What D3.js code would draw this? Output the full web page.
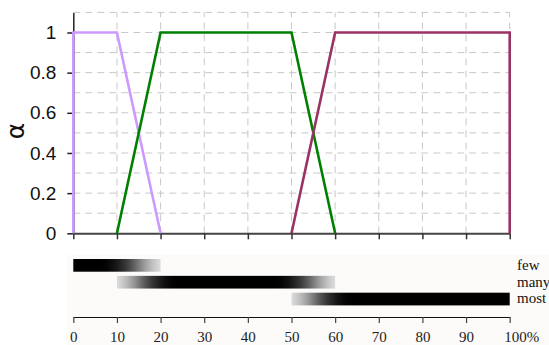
<!DOCTYPE html>
<html><head><meta charset="utf-8">
<script src="https://cdn.jsdelivr.net/npm/d3@7"></script>
<style>body{margin:0;background:#fff}</style>
</head><body><svg id="c" width="549" height="345"></svg>
<script>
// ---- data ----
const categories = ["few", "many", "most"];
const fewX  = [0, 0, 10, 20];
const fewA  = [0, 1, 1, 0];
const manyX = [10, 20, 50, 60];
const manyA = [0, 1, 1, 0];
const mostX = [50, 60, 100, 100];
const mostA = [0, 1, 1, 0];
const xTicks = [0, 10, 20, 30, 40, 50, 60, 70, 80, 90, 100];
const xTickLabels = ["0", "10", "20", "30", "40", "50", "60", "70", "80", "90", "100%"];
const yTicks = [0, 0.2, 0.4, 0.6, 0.8, 1];
const yGrid = [0.1, 0.2, 0.3, 0.4, 0.5, 0.6, 0.7, 0.8, 0.9, 1.0, 1.1];
const yLabel = "α";

const seriesList = [
  {name: categories[0], xs: fewX, as: fewA, color: "#cc99ff"},
  {name: categories[1], xs: manyX, as: manyA, color: "#008000"},
  {name: categories[2], xs: mostX, as: mostA, color: "#993366"}
];

// ---- layout ----
const svg = d3.select("#c");
const x = d3.scaleLinear().domain([0, 100]).range([73.3, 509.7]);
const y = d3.scaleLinear().domain([0, 1.1]).range([233.3, 12.4]);
const band = d3.scaleBand().domain(categories).range([259, 305.4]).paddingInner(0.246).paddingOuter(0);
const axis2Y = 317;

// grid
const grid = svg.append("g").attr("stroke", "#c8c8c8").attr("stroke-width", 1).attr("stroke-dasharray", "7,5");
grid.selectAll("line.h").data(yGrid).join("line").attr("class", "h")
  .attr("x1", x(0)).attr("x2", x(100)).attr("y1", d => y(d)).attr("y2", d => y(d));
grid.selectAll("line.v").data(xTicks.filter(d => d > 0)).join("line").attr("class", "v")
  .attr("x1", d => x(d)).attr("x2", d => x(d)).attr("y1", y(0)).attr("y2", y(1.1));

// y axis
const ya = svg.append("g").attr("transform", `translate(${x(0)},0)`)
  .call(d3.axisLeft(y).tickValues(yTicks).tickSize(6).tickSizeOuter(0).tickPadding(11).tickFormat(d3.format("~g")));
ya.select(".domain").attr("stroke", "#222").attr("stroke-width", 1.5);
ya.selectAll(".tick line").attr("stroke", "#222").attr("stroke-width", 1.5);
ya.selectAll(".tick text").attr("font-family", "Liberation Sans, Arial, sans-serif").attr("font-size", 19).attr("fill", "#111");

// x axis (top chart, no labels)
const xa = svg.append("g").attr("transform", `translate(0,${y(0)})`)
  .call(d3.axisBottom(x).tickValues(xTicks).tickSize(6).tickSizeOuter(0).tickFormat(""));
xa.select(".domain").attr("stroke", "#444").attr("stroke-width", 2);
xa.selectAll(".tick line").attr("stroke", "#333").attr("stroke-width", 1.5);

// alpha label
svg.append("text").attr("transform", `translate(24,131) rotate(-90)`)
  .attr("text-anchor", "middle").attr("font-family", "DejaVu Sans, sans-serif")
  .attr("font-size", 25).attr("fill", "#111").text(yLabel);

// lines
const line = d3.line().x(d => x(d[0])).y(d => y(d[1]));
svg.append("g").selectAll("path").data(seriesList).join("path")
  .attr("d", s => line(s.xs.map((v, i) => [v, s.as[i]])))
  .attr("fill", "none").attr("stroke", s => s.color).attr("stroke-width", 2.6)
  .attr("stroke-linejoin", "miter");

// ---- lower panel ----
svg.append("rect").attr("x", 67).attr("y", 255).attr("width", 549 - 67).attr("height", 345 - 255).attr("fill", "#fcfbf9");

// membership function evaluated from the series points
function member(s, t) {
  const xs = s.xs, as = s.as;
  let v = 0;
  for (let i = 0; i < xs.length - 1; i++) {
    const a = xs[i], b = xs[i + 1];
    if (t >= a && t <= b) {
      v = b === a ? Math.max(as[i], as[i + 1]) : as[i] + (as[i + 1] - as[i]) * (t - a) / (b - a);
    }
  }
  return v;
}
const blurW = 4;
function smooth(s, t) {
  let sum = 0, n = 0;
  for (let u = t - blurW; u <= t + blurW + 1e-9; u += 0.5) {
    sum += (u < 0 || u > 100) ? member(s, Math.max(0, Math.min(100, u))) : member(s, u);
    n++;
  }
  return sum / n;
}
const shade = a => d3.interpolateRgb("#f6f6f6", "#000000")(Math.min(1, a));
const defs = svg.append("defs");
seriesList.forEach((s, k) => {
  const lo = d3.min(s.xs), hi = d3.max(s.xs);
  const g = defs.append("linearGradient").attr("id", "g" + k)
    .attr("gradientUnits", "userSpaceOnUse")
    .attr("x1", x(lo)).attr("x2", x(hi)).attr("y1", 0).attr("y2", 0);
  d3.range(lo, hi + 0.001, 0.5).forEach(t => {
    g.append("stop").attr("offset", (t - lo) / (hi - lo)).attr("stop-color", shade(smooth(s, t)));
  });
});

svg.append("g").selectAll("rect").data(seriesList).join("rect")
  .attr("x", s => x(d3.min(s.xs)))
  .attr("width", s => x(d3.max(s.xs)) - x(d3.min(s.xs)))
  .attr("y", s => band(s.name)).attr("height", band.bandwidth())
  .attr("fill", (s, k) => `url(#g${k})`);

svg.append("g").selectAll("text").data(categories).join("text")
  .attr("x", 517).attr("y", d => band(d) + band.bandwidth() - 2)
  .attr("font-family", "Liberation Serif, Times New Roman, serif").attr("font-size", 15)
  .attr("fill", "#111").text(d => d);

const xb = svg.append("g").attr("transform", `translate(0,${axis2Y})`)
  .call(d3.axisBottom(x).tickValues(xTicks).tickSize(6).tickSizeOuter(0).tickPadding(8)
    .tickFormat((d, i) => xTickLabels[i]));
xb.select(".domain").attr("stroke", "#111").attr("stroke-width", 1);
xb.selectAll(".tick line").attr("stroke", "#444").attr("stroke-width", 1.2);
xb.selectAll(".tick text").attr("font-family", "Liberation Serif, Times New Roman, serif")
  .attr("font-size", 15).attr("fill", "#222");
xb.selectAll(".tick text").filter((d, i) => i === xTicks.length - 1).attr("text-anchor", "start").attr("dx", -6);
</script></body></html>
